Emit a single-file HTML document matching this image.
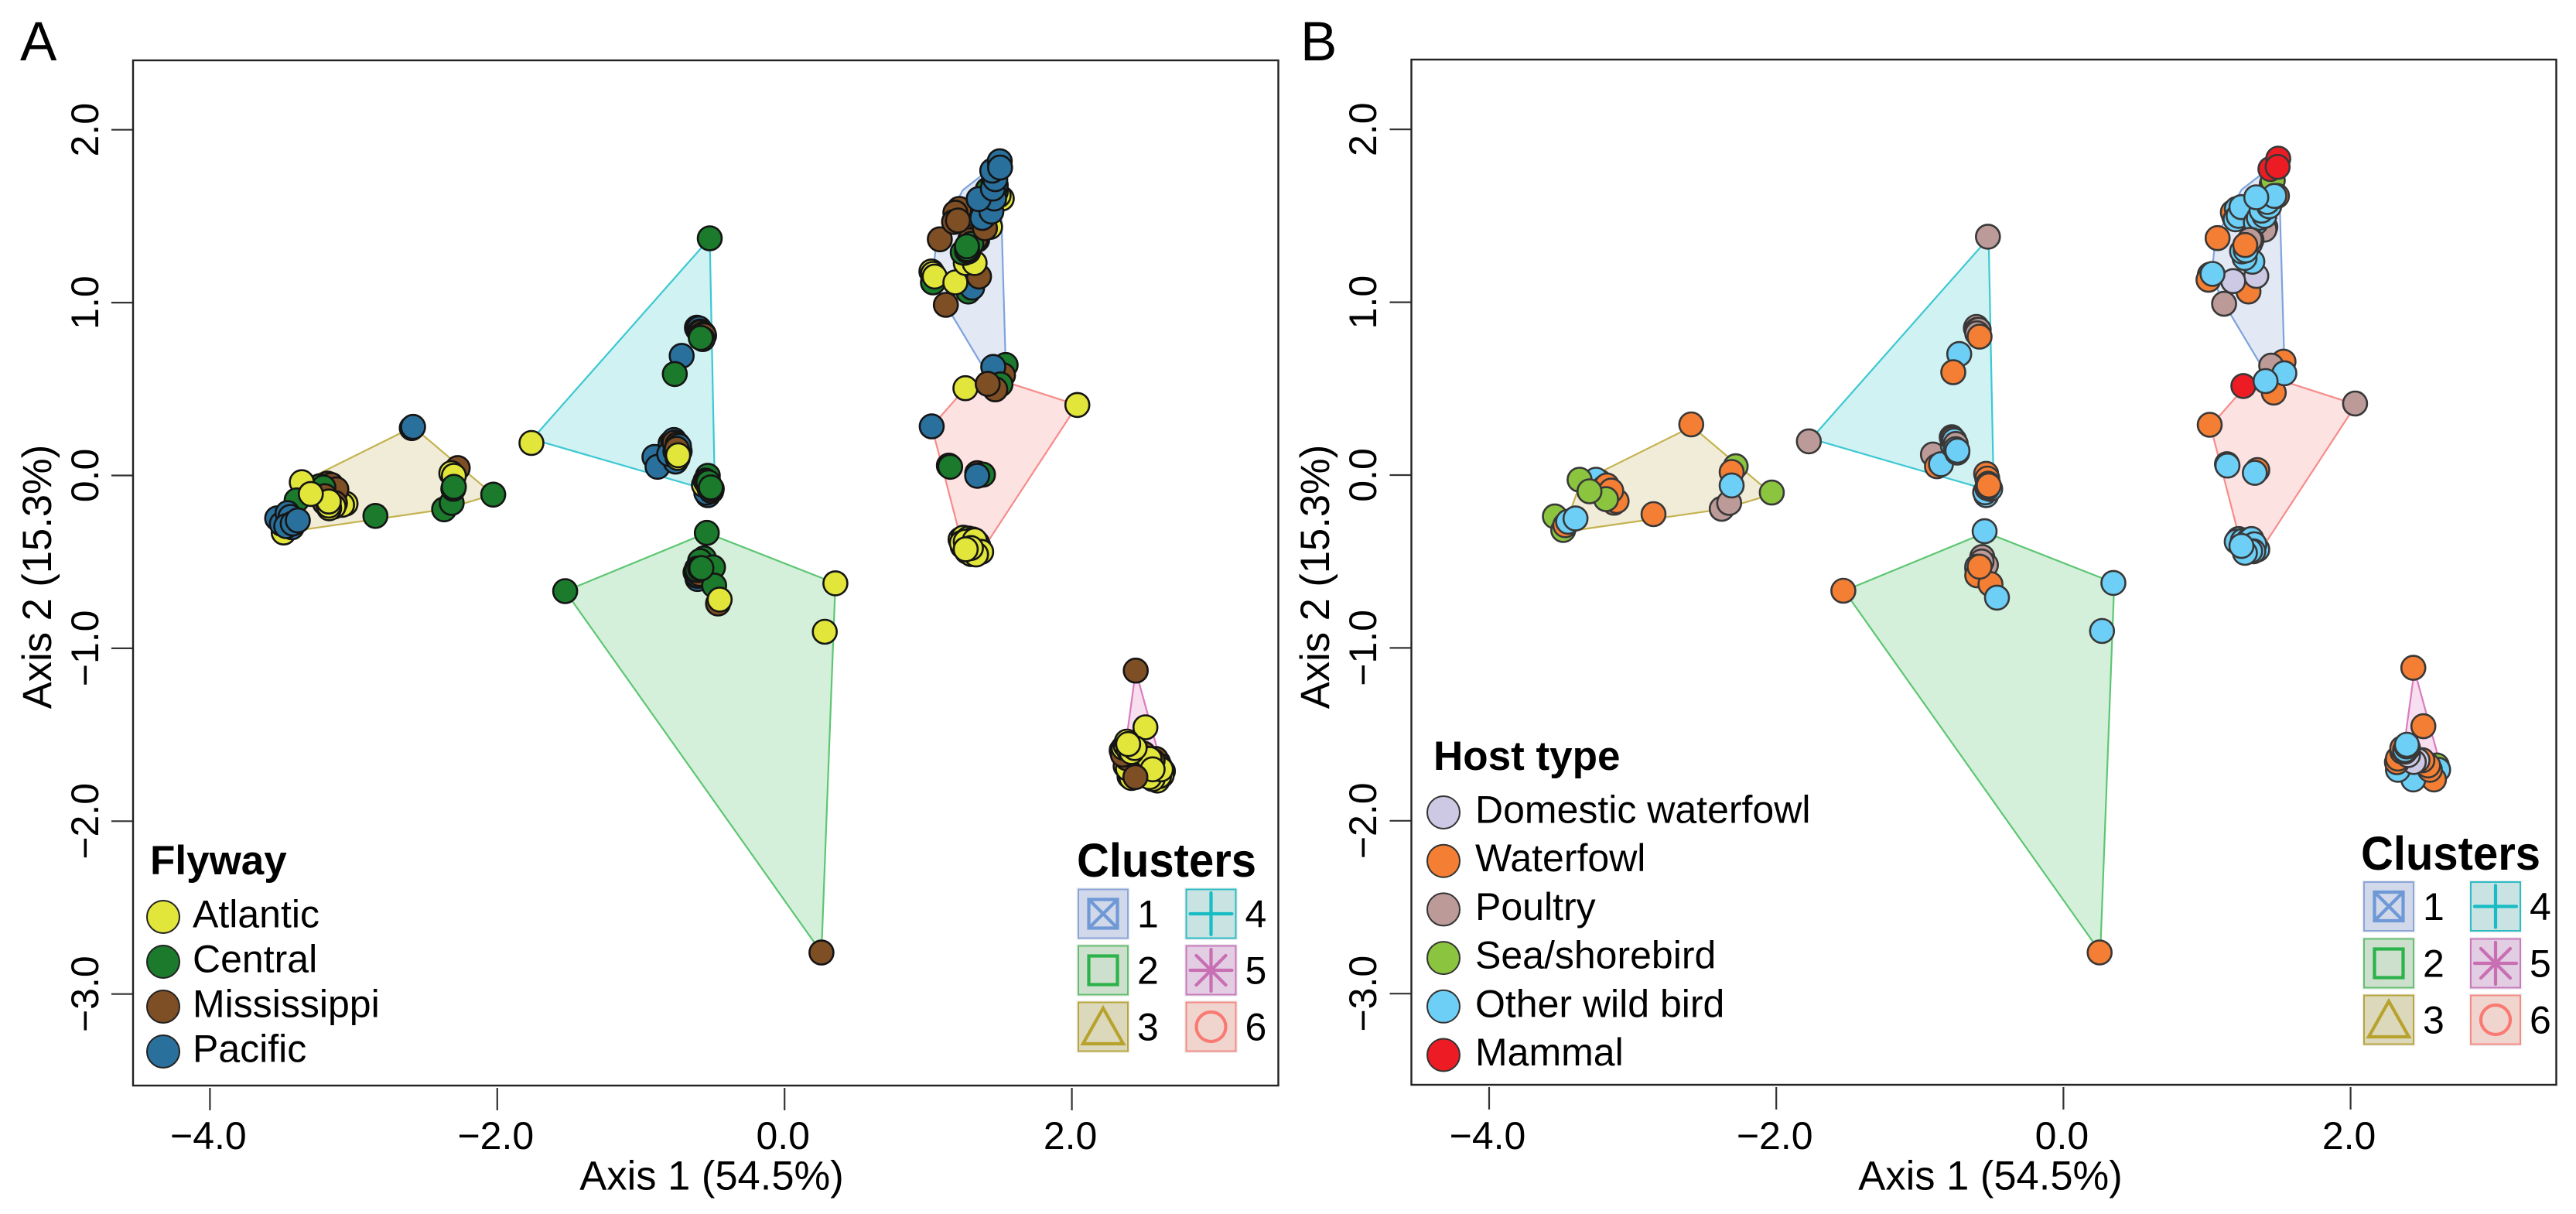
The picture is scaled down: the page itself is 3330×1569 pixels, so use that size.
<!DOCTYPE html>
<html lang="en">
<head>
<meta charset="utf-8">
<title>Cluster ordination by flyway and host type</title>
<style>
html,body{margin:0;padding:0;background:#fff}
svg{display:block}
text{font-family:"Liberation Sans",Arial,sans-serif;fill:#000}
</style>
</head>
<body>
<svg id="figure" xmlns="http://www.w3.org/2000/svg" width="3330" height="1569" viewBox="0 0 3330 1569">
<rect x="0" y="0" width="3330" height="1569" fill="#ffffff"/>
<text x="26" y="78" font-size="71">A</text>
<text x="1681" y="78" font-size="71">B</text>
<g id="panelA"></g>
<g id="panelB"></g>
</svg>
<script>
// ---- chart data -------------------------------------------------------
const xTicks = [-4, -2, 0, 2];
const yTicks = [2, 1, 0, -1, -2, -3];
const xAxisTitle = "Axis 1 (54.5%)";
const yAxisTitle = "Axis 2 (15.3%)";

// Panel A ordination scores in plotting order, with flyway code per point
const panelAX = [
 1.279,1.306,1.037,1.033,1.123,1.354,1.022,1.033,1.045,1.189,1.261,1.323,1.252,1.261,1.279,1.341,1.306,1.081,
 1.31,1.33,1.29,1.30,1.24,1.27,1.27,
 1.270,1.216,1.189,1.180,1.207,1.512,1.431,1.395,1.440,1.414,
 1.49,1.47,
 1.39,1.42,1.38,
 1.377,1.440,1.459,1.351,
 1.47,1.455,1.45,
 1.467,1.446,1.498,1.500,
 1.539,1.521,1.453,1.503,1.467,1.259,1.414,1.024,2.038,1.144,1.153,1.341,1.381,1.341,
 1.225,1.245,1.28,1.31,1.34,1.35,1.24,1.27,1.30,
 1.234,1.261,1.324,1.369,1.333,1.297,1.261,
 -1.762,-0.521,-0.61,-0.606,-0.60,-0.595,-0.588,-0.58,-0.579,-0.565,-0.56,-0.570,-0.583,-0.716,-0.764,
 -0.906,-0.884,-0.759,-0.794,-0.776,-0.803,-0.77,-0.765,-0.745,-0.74,-0.73,-0.76,-0.735,-0.750,-0.744,-0.741,
 -0.534,-0.534,-0.545,-0.561,-0.525,-0.51,-0.55,-0.543,-0.53,-0.507,-0.513,
 -0.541,-0.561,-0.588,-0.606,-0.615,-0.62,-0.61,-0.60,-0.59,-0.498,-0.490,-0.463,-0.452,-0.61,-0.606,-0.588,-0.579,-1.527,0.354,0.280,0.257,
 -2.595,-2.586,-2.275,-2.320,-2.302,-2.370,-2.317,-2.306,-2.302,-2.028,-2.848,
 -3.056,-3.08,-3.182,-3.155,-3.13,-3.12,-3.236,-3.21,-3.361,-3.397,-3.13,-3.14,-3.17,-3.20,-3.2,-3.173,-3.173,-3.298,-3.487,-3.532,-3.487,-3.5,-3.46,-3.44,-3.43,-3.469,-3.424,-3.388,
 2.445,2.512,2.634,2.625,2.580,2.595,2.607,2.562,2.540,2.401,2.415,2.600,2.585,2.610,2.620,
 2.374,2.390,2.383,2.347,2.355,2.360,2.500,2.472,2.450,2.562,2.540,2.562,2.442,2.374,2.395,2.415,2.437,2.383,2.392
];
const panelAY = [
 1.064,1.087,1.124,1.117,0.987,1.151,1.180,1.166,1.151,1.117,1.229,1.229,1.288,1.303,1.296,1.363,1.348,1.366,
 1.38,1.37,1.36,1.34,1.29,1.30,1.31,
 1.326,1.542,1.520,1.467,1.475,1.602,1.438,1.430,1.632,1.654,
 1.62,1.64,
 1.50,1.56,1.56,
 1.490,1.527,1.602,1.599,
 1.68,1.70,1.66,
 1.714,1.763,1.818,1.781,
 0.639,0.580,0.628,0.527,0.498,0.505,0.530,0.284,0.408,0.057,0.050,0.013,0.005,-0.002,
 -0.37,-0.36,-0.365,-0.37,-0.39,-0.41,-0.41,-0.44,-0.455,
 -0.390,-0.383,-0.375,-0.442,-0.457,-0.420,-0.427,
 0.188,1.372,0.855,0.848,0.84,0.85,0.833,0.83,0.811,0.82,0.81,0.789,0.796,0.692,0.587,
 0.107,0.050,0.080,0.184,0.199,0.124,0.205,0.19,0.18,0.16,0.14,0.14,0.17,0.154,0.102,0.117,
 -0.002,-0.114,-0.10,-0.055,-0.069,-0.09,-0.03,-0.040,-0.04,-0.077,-0.069,
 -0.332,-0.480,-0.495,-0.599,-0.562,-0.56,-0.58,-0.58,-0.57,-0.532,-0.637,-0.741,-0.718,-0.54,-0.547,-0.539,-0.536,-0.669,-0.624,-0.904,-2.760,
 0.274,0.281,0.043,0.013,-0.002,-0.196,-0.159,-0.077,-0.066,-0.111,-0.234,
 -0.163,-0.17,-0.047,-0.055,-0.10,-0.08,-0.062,-0.07,-0.039,-0.144,-0.16,-0.18,-0.19,-0.12,-0.159,-0.174,-0.151,-0.107,-0.33,-0.248,-0.271,-0.28,-0.218,-0.24,-0.30,-0.293,-0.278,-0.26,
 -1.129,-1.457,-1.711,-1.735,-1.756,-1.765,-1.740,-1.756,-1.745,-1.740,-1.750,-1.660,-1.640,-1.680,-1.700,
 -1.681,-1.695,-1.636,-1.591,-1.615,-1.575,-1.610,-1.621,-1.600,-1.651,-1.640,-1.700,-1.745,-1.561,-1.585,-1.600,-1.577,-1.540,-1.554
];
const panelAFlyway = [...(
 "CPMCMMAAAAAACCMMMM" + "MMMCCMC" + "CMMMMAAMCC" + "AC" + "PPP" + "PPPP" + "PPP" + "PPPP" +
 "CMPCMAMPACCMCP" + "AAAAAAAAA" + "AAAAAAA" +
 "ACAAMPPMPPMCCPC" +
 "PPPPPPPMMMMMPMAA" +
 "CPPAMMMCCCC" +
 "CCCPMMMPMCCMACCCCCAAM" +
 "PPMAACCCCCC" +
 "AAMMMMCCACMAAMMAAAAPCPPPPPPP" +
 "MA" + "AAAAAAAAA" + "MMMA" +
 "AAMMMAMMMMAAMAAAAAA"
)];

// Panel B ordination scores in plotting order, with host-type code per point
const panelBX = [
 1.289,1.119,1.343,1.182,1.020,1.010,1.038,1.190,1.18,1.208,1.199,1.22,1.24,1.406,1.40,1.34,1.361,1.40,1.38,1.433,1.42,1.451,1.458,1.487,1.469,1.343,1.442,1.496,1.492,1.074,
 1.316,1.262,1.244,1.31,1.29,1.30,1.27,1.298,1.266,
 1.533,1.465,1.447,1.539,1.253,1.408,2.031,1.019,1.139,1.143,1.350,1.333,
 1.22,1.207,1.264,1.25,1.293,1.31,1.35,1.33,1.322,1.30,1.264,1.24,
 -1.773,-0.526,-0.726,-0.767,-0.61,-0.606,-0.60,-0.59,-0.60,-0.584,
 -0.909,-0.881,-0.853,-0.778,-0.77,-0.77,-0.76,-0.75,-0.75,-0.74,-0.738,
 -0.538,-0.538,-0.545,-0.51,-0.53,-0.53,-0.528,-0.525,-0.52,
 -0.549,-0.566,-0.54,-0.60,-0.59,-0.57,-0.60,-0.60,-0.508,-0.584,-0.463,-1.533,0.348,0.269,0.252,
 -2.592,-2.283,-2.38,-2.328,-2.311,-2.311,-2.031,-2.855,
 -3.14,-3.16,-3.13,-3.112,-3.23,-3.256,-3.198,-3.18,-3.15,-3.186,-3.37,-3.301,-3.542,-3.484,-3.47,-3.45,-3.398,
 2.437,2.507,2.6,2.61,2.581,2.437,2.33,2.552,2.54,2.5,2.466,2.44,2.323,2.33,2.36,2.36,2.40,2.38,2.40,2.38,2.39,2.392
];
const panelBY = [
 1.062,0.991,1.152,1.122,1.159,1.130,1.164,1.495,1.52,1.54,1.48,1.50,1.55,1.435,1.42,1.46,1.488,1.50,1.53,1.555,1.58,1.682,1.704,1.615,1.615,1.607,1.771,1.831,1.783,1.371,
 1.234,1.256,1.294,1.36,1.35,1.34,1.30,1.361,1.331,
 0.656,0.477,0.633,0.589,0.515,0.544,0.414,0.291,0.063,0.055,0.029,0.013,
 -0.37,-0.385,-0.396,-0.38,-0.374,-0.37,-0.43,-0.40,-0.441,-0.44,-0.45,-0.41,
 0.195,1.379,0.70,0.595,0.85,0.857,0.84,0.84,0.82,0.801,
 0.119,0.051,0.063,0.219,0.17,0.21,0.20,0.18,0.15,0.13,0.141,
 0.007,-0.116,-0.10,-0.08,-0.02,-0.075,-0.065,-0.05,-0.06,
 -0.325,-0.474,-0.52,-0.54,-0.56,-0.50,-0.53,-0.58,-0.631,-0.53,-0.709,-0.669,-0.624,-0.902,-2.762,
 0.293,0.051,-0.195,-0.161,0.018,-0.06,-0.101,-0.226,
 -0.13,-0.10,-0.16,-0.15,-0.04,-0.027,-0.072,-0.06,-0.09,-0.139,-0.027,-0.094,-0.239,-0.318,-0.29,-0.27,-0.251,
 -1.115,-1.453,-1.68,-1.705,-1.761,-1.761,-1.705,-1.705,-1.68,-1.65,-1.65,-1.66,-1.661,-1.64,-1.60,-1.58,-1.62,-1.60,-1.58,-1.59,-1.57,-1.56
];
const panelBHost = [...(
 "WPDDWWOWWOOOOPPOOOOOOSSWOOMMMW" + "OOOPPOOPW" +
 "WWPOMOPWOOWO" + "OOOOOOOOOOOO" +
 "PPOWPPOPPW" +
 "PWOWOWOPOOO" +
 "WOOOWOWWW" +
 "OPPPPPOWWWOWOOW" +
 "WSPPWOSW" +
 "WWWWOOWWWSSSSSWOO" +
 "WWSOWOOWWWDDWWWWDSOOOO"
)];

// Convex-hull vertices of each cluster, in axis units (clusters 1 to 6)
const hull1X = [1.498,1.540,1.380,1.123,1.030,1.060,1.240];
const hull1Y = [1.818,0.620,0.630,0.987,1.150,1.370,1.650];
const hull2X = [-0.541,0.354,0.257,-1.527];
const hull2Y = [-0.332,-0.624,-2.760,-0.669];
const hull3X = [-2.586,-2.028,-2.370,-3.487,-3.361];
const hull3Y = [0.281,-0.111,-0.196,-0.330,-0.039];
const hull4X = [-1.757,-0.521,-0.487,-0.550];
const hull4Y = [0.210,1.372,-0.030,-0.080];
const hull5X = [2.445,2.640,2.358];
const hull5Y = [-1.129,-1.720,-1.657];
const hull6X = [1.024,1.259,1.453,1.593,2.038,1.369,1.234];
const hull6Y = [0.284,0.505,0.600,0.527,0.408,-0.442,-0.390];

// Legend content
const flywayNames = ["Atlantic","Central","Mississippi","Pacific"];
const flywayCodes = ["A","C","M","P"];
const hostNames = ["Domestic waterfowl","Waterfowl","Poultry","Sea/shorebird","Other wild bird","Mammal"];
const hostCodes = ["D","W","P","S","O","M"];
const clusterNumbers = [1,2,3,4,5,6];

// ---- styling ----------------------------------------------------------
const flywayColors = {A:"#e2e63b",C:"#1b7a2c",M:"#7e4e24",P:"#2a709c"};
const hostColors = {D:"#cdc9e4",W:"#f47e33",P:"#bb9a98",S:"#8bc53f",O:"#6dcff6",M:"#ed1c24"};
const hullFill = ["#e2e9f5","#d4f0da","#f0ecd8","#d0f2f3","#f7dff0","#fde2e2"];
const hullStroke = ["#7ea3dc","#5dc673","#c4b24e","#3cc8d2","#d97cc0","#f78b8b"];
const swatchFill = ["#d0d8ea","#cde0cd","#dcd8bb","#c9e3e3","#e3cde3","#f0d5cf"];
const swatchStroke = ["#8aa5d8","#62bf6e","#b8a63a","#2bbcc4","#c878bb","#f58b84"];
const symbolStroke = ["#6f98d6","#2bb24a","#b8a22e","#17bcc4","#c76fb2","#f87a72"];
const SVGNS = "http://www.w3.org/2000/svg";

const panelLayouts = {
  A:{left:172,right:1652.5,top:78,bottom:1403,x0:1014.2,xu:185.7,y0:614.5,yu:223.4,tickLabelX:127,titleX:66,titleY:745.5,axisTitleX:920,
     clusterTitleX:1392,clusterTitleY:1133,swatchX:[1394,1533.5],swatchY:[1149.5,1222.5,1295.5]},
  B:{left:1824.5,right:3304.5,top:77,bottom:1402,x0:2667.4,xu:185.6,y0:614,yu:223.4,tickLabelX:1779,titleX:1718,titleY:745.5,axisTitleX:2573,
     clusterTitleX:3052,clusterTitleY:1124,swatchX:[3056,3194],swatchY:[1140,1213.5,1286.5]}
};

function add(parent, tag, attrs, content){
  const el = document.createElementNS(SVGNS, tag);
  for (const k in attrs) el.setAttribute(k, attrs[k]);
  if (content !== undefined) el.textContent = content;
  parent.appendChild(el);
  return el;
}
function xScale(p, v){ return p.x0 + p.xu * v; }
function yScale(p, v){ return p.y0 - p.yu * v; }
function tickText(v){ return (v < 0 ? "\u2212" : "") + Math.abs(v).toFixed(1); }

function drawHull(g, p, xs, ys, i){
  const pts = xs.map((x, k) => xScale(p, x).toFixed(1) + "," + yScale(p, ys[k]).toFixed(1)).join(" ");
  const hull = add(g, "polygon", {points:pts, fill:hullFill[i], stroke:hullStroke[i], "stroke-width":2.2, "stroke-linejoin":"round"});
  
  
}

function drawFrame(g, p){
  xTicks.forEach(v => {
    const t = add(g, "line", {x1:xScale(p,v), x2:xScale(p,v), y1:p.bottom + 3, y2:p.bottom + 32, stroke:"#333", "stroke-width":2.2});
    
    
    const l = add(g, "text", {x:xScale(p,v) - 2, y:1485, "font-size":50, "text-anchor":"middle"}, tickText(v));
    
    
  });
  yTicks.forEach(v => {
    const yy = yScale(p, v);
    const t = add(g, "line", {x1:p.left - 28, x2:p.left, y1:yy, y2:yy, stroke:"#333", "stroke-width":2.2});
    
    
    const l = add(g, "text", {transform:"translate(" + p.tickLabelX + "," + yy + ") rotate(-90)", "font-size":50, "text-anchor":"middle"}, tickText(v));
    
    
  });
  const xt = add(g, "text", {x:p.axisTitleX, y:1537.5, "font-size":52.5, "text-anchor":"middle"}, xAxisTitle);
  
  
  const yt = add(g, "text", {transform:"translate(" + p.titleX + "," + p.titleY + ") rotate(-90)", "font-size":52.5, "text-anchor":"middle"}, yAxisTitle);
  
  
  const box = add(g, "rect", {x:p.left, y:p.top, width:p.right - p.left, height:p.bottom - p.top, fill:"none", stroke:"#222", "stroke-width":2.4});
  
  
}

function drawPoints(g, p, xs, ys, codes, colors, stroke){
  xs.forEach((x, i) => {
    const c = add(g, "circle", {cx:xScale(p,x).toFixed(1), cy:yScale(p,ys[i]).toFixed(1), r:15.5, fill:colors[codes[i]], stroke:stroke, "stroke-width":2.6});
    
    
  });
}

function drawSymbol(g, n, cx, cy){
  const base = {fill:"none", stroke:symbolStroke[n], "stroke-width":4.2, "stroke-linecap":"round"};
  const ln = (x1,y1,x2,y2) => add(g, "line", Object.assign({x1:cx+x1,y1:cy+y1,x2:cx+x2,y2:cy+y2}, base));
  if (n === 0){
    add(g, "rect", Object.assign({x:cx-18.5,y:cy-18.5,width:37,height:37}, base));
    ln(-18.5,-18.5,18.5,18.5); ln(-18.5,18.5,18.5,-18.5);
  } else if (n === 1){
    add(g, "rect", Object.assign({x:cx-18.5,y:cy-18.5,width:37,height:37}, base));
  } else if (n === 2){
    add(g, "polygon", Object.assign({points:(cx)+","+(cy-24)+" "+(cx+26)+","+(cy+22)+" "+(cx-26)+","+(cy+22)}, base));
  } else if (n === 3){
    ln(-27,0,27,0); ln(0,-27,0,27);
  } else if (n === 4){
    ln(-27,0,27,0); ln(0,-27,0,27); ln(-19,-19,19,19); ln(-19,19,19,-19);
  } else {
    add(g, "circle", Object.assign({cx:cx,cy:cy,r:19}, base));
  }
}

function drawClusterLegend(g, p){
  const title = add(g, "text", {x:p.clusterTitleX, y:p.clusterTitleY, "font-size":61, "font-weight":"bold", textLength:232, lengthAdjust:"spacingAndGlyphs"}, "Clusters");
  
  
  clusterNumbers.forEach((num, n) => {
    const col = Math.floor(n / 3), row = n % 3;
    const sx = p.swatchX[col], sy = p.swatchY[row];
    const entry = add(g, "g", {});
    
    
    const halo = add(entry, "rect", {x:sx-2.5, y:sy-2.5, width:69, height:68, fill:"#f0f0f0"});
    
    
    const sw = add(entry, "rect", {x:sx, y:sy, width:64, height:63, fill:swatchFill[n], stroke:swatchStroke[n], "stroke-width":2});
    
    
    drawSymbol(entry, n, sx + 32, sy + 31.5);
    const label = add(entry, "text", {x:sx + 76, y:sy + 31.5 + 17.5, "font-size":50}, String(num));
    
    
  });
}

function drawCategoryLegend(g, titleText, titleX, titleY, names, codes, colors, cx, cyStart, cyStep, textX, stroke){
  const title = add(g, "text", {x:titleX, y:titleY, "font-size":53, "font-weight":"bold"}, titleText);
  
  
  names.forEach((name, i) => {
    const yy = cyStart + i * cyStep;
    const c = add(g, "circle", {cx:cx, cy:yy, r:21, fill:colors[codes[i]], stroke:stroke, "stroke-width":2});
    
    
    const t = add(g, "text", {x:textX, y:yy + 13.5, "font-size":50}, name);
    
    
  });
}

function drawPanel(id, layout, xs, ys, codes, colors, stroke){
  const g = document.getElementById(id);
  drawHull(g, layout, hull1X, hull1Y, 0);
  drawHull(g, layout, hull2X, hull2Y, 1);
  drawHull(g, layout, hull3X, hull3Y, 2);
  drawHull(g, layout, hull4X, hull4Y, 3);
  drawHull(g, layout, hull5X, hull5Y, 4);
  drawHull(g, layout, hull6X, hull6Y, 5);
  drawFrame(g, layout);
  drawPoints(g, layout, xs, ys, codes, colors, stroke);
  drawClusterLegend(g, layout);
}

drawPanel("panelA", panelLayouts.A, panelAX, panelAY, panelAFlyway, flywayColors, "#141414");
drawPanel("panelB", panelLayouts.B, panelBX, panelBY, panelBHost, hostColors, "#383838");
drawCategoryLegend(document.getElementById("panelA"), "Flyway", 194, 1130, flywayNames, flywayCodes, flywayColors, 211, 1185, 58, 249, "#222");
drawCategoryLegend(document.getElementById("panelB"), "Host type", 1853, 995, hostNames, hostCodes, hostColors, 1866, 1050, 62.7, 1907, "#333");
</script>
</body>
</html>
